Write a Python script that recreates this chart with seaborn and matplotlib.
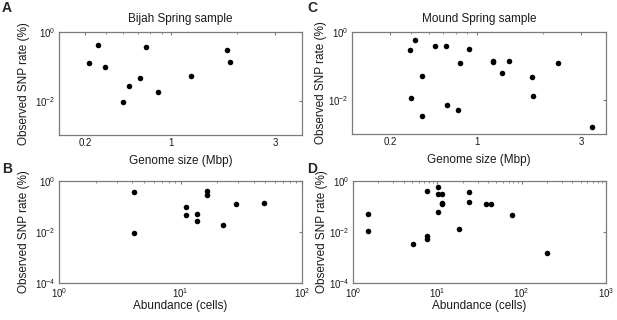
import matplotlib
matplotlib.use('Agg')
import matplotlib.pyplot as plt
import numpy as np
import pandas as pd
import seaborn as sns
from matplotlib.ticker import LogLocator, NullFormatter, FixedLocator

# Bijah Spring sample: genome size (Mbp, in axis units), abundance (cells), SNP rate (%)
bijah_genome = [0.416, 0.457, 0.493, 0.596, 0.638, 0.718, 0.764, 0.865, 1.227, 1.798, 1.865]
bijah_abund = [28.9, 16.4, 11.2, 4.13, 13.7, 11.2, 4.13, 22.4, 13.7, 16.4, 49.1]
bijah_snp = [0.125, 0.42, 0.097, 0.0092, 0.027, 0.047, 0.375, 0.018, 0.053, 0.295, 0.135]

# Mound Spring sample
mound_genome = [0.495, 0.52, 0.498, 0.557, 0.557, 0.638, 0.718, 0.731, 0.818, 0.839,
                0.919, 1.177, 1.184, 1.307, 1.408, 1.787, 1.814, 2.338, 3.37]
mound_abund = [10.05, 10.05, 1.52, 1.52, 5.12, 7.56, 23.7, 7.56, 7.56, 11.5,
               11.5, 38.0, 23.7, 10.05, 11.5, 76.0, 18.2, 43.2, 200.0]
mound_snp = [0.296, 0.585, 0.0114, 0.050, 0.0033, 0.393, 0.375, 0.0069, 0.0051, 0.123,
             0.315, 0.127, 0.144, 0.062, 0.137, 0.047, 0.0135, 0.125, 0.00156]

genome_ticks = [0.4, 1, 3]
genome_ticklabels = ['0.2', '1', '3']

bijah = pd.DataFrame({'genome': bijah_genome, 'abund': bijah_abund, 'snp': bijah_snp})
mound = pd.DataFrame({'genome': mound_genome, 'abund': mound_abund, 'snp': mound_snp})

sns.set_style('white')
plt.rcParams['font.family'] = ['Liberation Sans', 'DejaVu Sans']
plt.rcParams['mathtext.default'] = 'regular'

W, H = 617, 320
fig = plt.figure(figsize=(W / 100, H / 100), dpi=100)


def box(l, t, r, b):
    return [l / W, 1 - b / H, (r - l) / W, (b - t) / H]


spine_col = '#7a7a7a'
txt_col = '#1a1a1a'


def style(ax):
    for s in ax.spines.values():
        s.set_color(spine_col)
        s.set_linewidth(0.9)
    ax.tick_params(which='both', direction='in', top=True, right=True,
                   color=spine_col, labelsize=7, labelcolor=txt_col, pad=2.5)
    ax.tick_params(which='major', length=2.5)
    ax.tick_params(which='minor', length=1.5)
    ax.set_yscale('log')
    ax.yaxis.set_minor_locator(FixedLocator([]))
    ax.set_ylabel('Observed SNP rate (%)', fontsize=8.5, color=txt_col)


axA = fig.add_axes(box(59, 32, 302, 135))
axC = fig.add_axes(box(352, 32, 606, 134))
axB = fig.add_axes(box(59, 181, 302, 283))
axD = fig.add_axes(box(353, 181, 606, 283))

panels = [(axA, bijah, 'genome'), (axC, mound, 'genome'),
          (axB, bijah, 'abund'), (axD, mound, 'abund')]
for ax, df, xcol in panels:
    sns.scatterplot(data=df, x=xcol, y='snp', ax=ax, color='black', s=16,
                    linewidth=0, legend=False)
    ax.set_xscale('log')
    style(ax)

# genome size panels
for ax, lo, hi in [(axA, 0.303, 4.0), (axC, 0.267, 3.9)]:
    ax.set_xlim(lo, hi)
    ax.set_ylim(1e-3, 1)
    ax.set_yticks([1e-2, 1])
    ax.set_xticks(genome_ticks)
    ax.set_xticklabels(genome_ticklabels)
    ax.xaxis.set_minor_locator(FixedLocator([0.5, 0.6, 0.7, 0.8, 0.9, 2]))
    ax.xaxis.set_minor_formatter(NullFormatter())
    ax.set_xlabel('Genome size (Mbp)', fontsize=8.5, color=txt_col, labelpad=5)

axA.set_title('Bijah Spring sample', fontsize=8.5, color=txt_col, pad=7)
axC.set_title('Mound Spring sample', fontsize=8.5, color=txt_col, pad=7)

# abundance panels
for ax, hi in [(axB, 100), (axD, 1000)]:
    ax.set_xlim(1, hi)
    ax.set_ylim(1e-4, 1)
    ax.set_yticks([1e-4, 1e-2, 1])
    ax.xaxis.set_major_locator(LogLocator(base=10, numticks=10))
    ax.xaxis.set_minor_locator(LogLocator(base=10, subs=np.arange(2, 10), numticks=20))
    ax.xaxis.set_minor_formatter(NullFormatter())
    ax.set_xlim(1, hi)
    ax.set_xlabel('Abundance (cells)', fontsize=8.5, color=txt_col, labelpad=0)

axA.yaxis.set_label_coords(-0.118, 0.5)
axB.yaxis.set_label_coords(-0.118, 0.5)
axC.yaxis.set_label_coords(-0.097, 0.5)
axD.yaxis.set_label_coords(-0.1, 0.5)

for lab, x, y in [('A', 2, 12), ('C', 307, 12), ('B', 2, 173), ('D', 307, 173)]:
    fig.text(x / W, 1 - y / H, lab, fontsize=10, fontweight='bold', va='baseline')

fig.savefig('out.png', dpi=100)
